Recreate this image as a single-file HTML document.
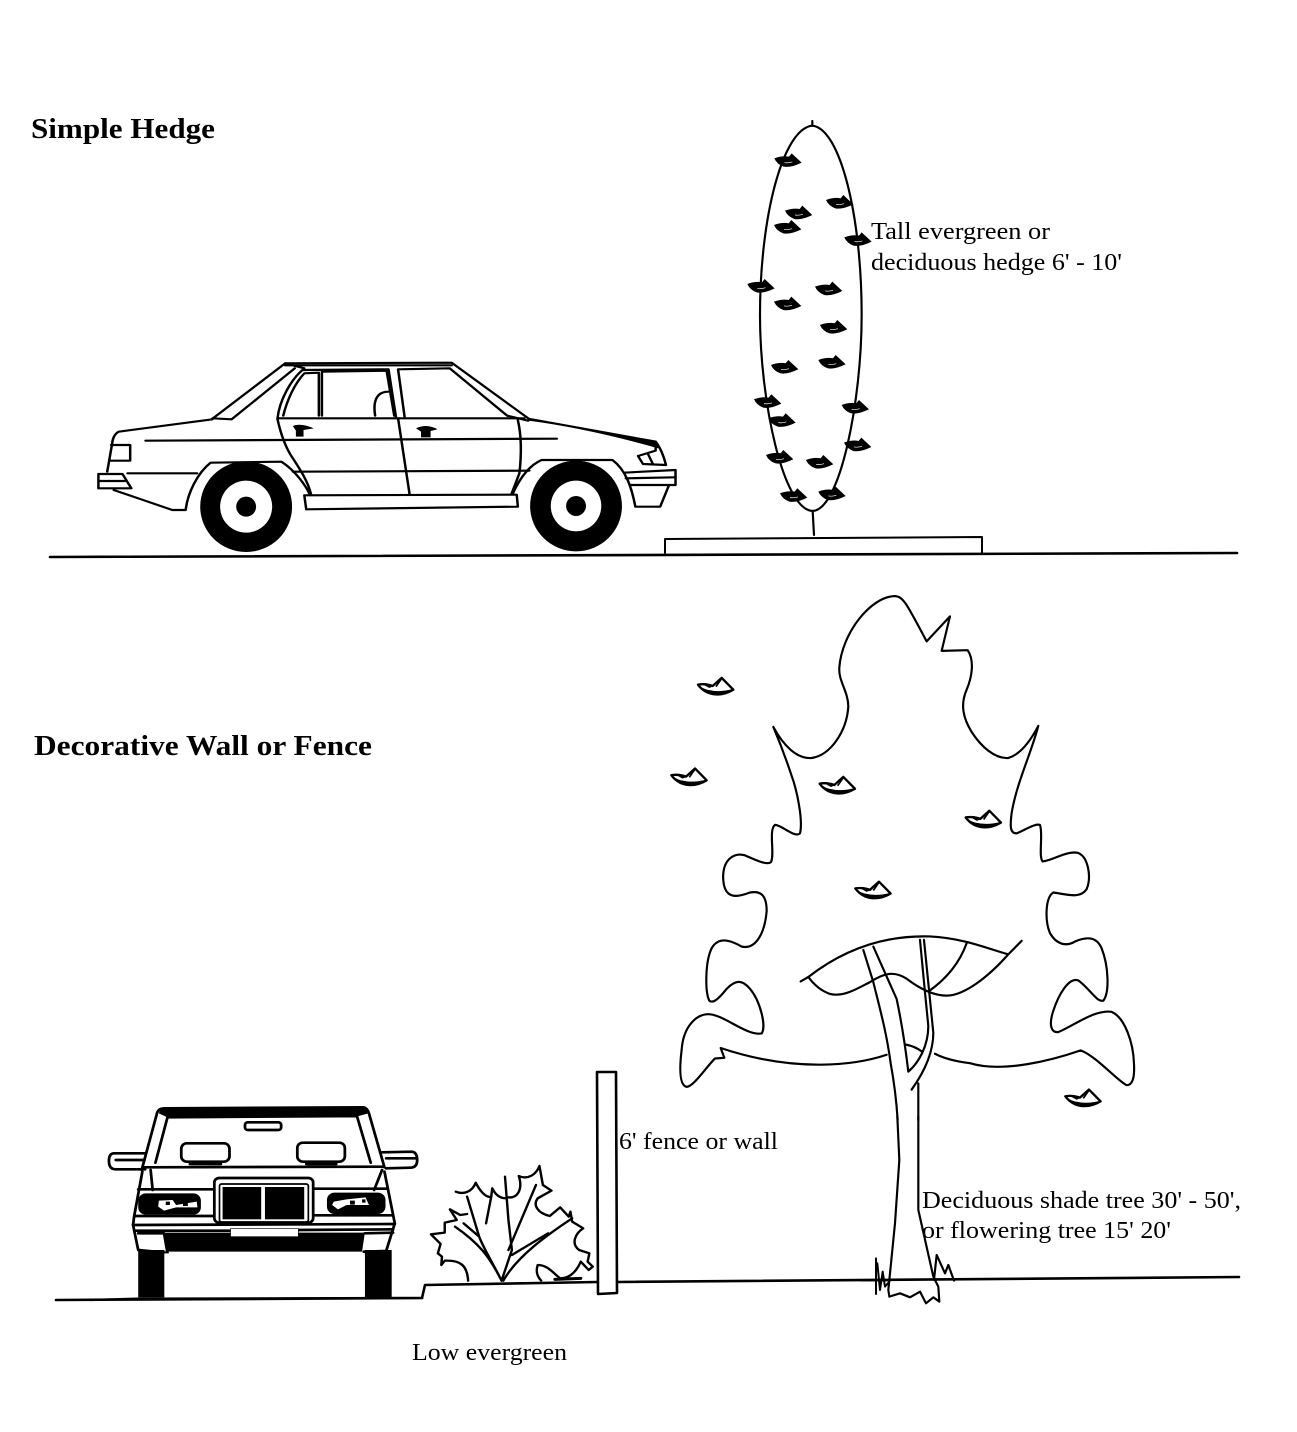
<!DOCTYPE html>
<html><head><meta charset="utf-8"><style>
html,body{margin:0;padding:0;background:#fff;width:1297px;height:1432px;overflow:hidden}
svg{display:block}
text{font-family:"Liberation Serif",serif;fill:#000}
.l{fill:none;stroke:#000;stroke-linejoin:round;stroke-linecap:round}
</style></head><body>
<svg width="1297" height="1432" viewBox="0 0 1297 1432" xmlns="http://www.w3.org/2000/svg">
<defs>
<g id="tl"><path d="M84,280 Q105,276 128,284 L155,260 L190,295 Q150,318 112,303 Q95,295 84,280Z" fill="#fff" stroke="#000" stroke-width="7" stroke-linejoin="round"/><path d="M84,281 Q95,290 112,295 Q150,304 188,293 L190,296 Q150,318 112,304 Q95,296 84,281Z M92,276 Q115,274 132,284 L118,290Z" fill="#000"/><path d="M155,262 L138,286" fill="none" stroke="#000" stroke-width="5"/></g>
<g id="hl"><path d="M0,15 Q25,6 44,10 L52,0 L82,28 Q50,44 28,40 Q8,33 0,15Z" fill="#000"/><path d="M30,28 Q42,30 54,26" fill="none" stroke="#fff" stroke-width="2"/></g>
</defs>

<text x="31" y="138" font-size="29" font-weight="bold" textLength="184" lengthAdjust="spacingAndGlyphs">Simple Hedge</text>
<text x="34" y="755" font-size="29" font-weight="bold" textLength="338" lengthAdjust="spacingAndGlyphs">Decorative Wall or Fence</text>
<text x="871" y="239" font-size="24" textLength="179" lengthAdjust="spacingAndGlyphs">Tall evergreen or</text>
<text x="871" y="270" font-size="24" textLength="251" lengthAdjust="spacingAndGlyphs">deciduous hedge 6' - 10'</text>
<text x="619" y="1149" font-size="24" textLength="159" lengthAdjust="spacingAndGlyphs">6' fence or wall</text>
<text x="922" y="1208" font-size="24" textLength="319" lengthAdjust="spacingAndGlyphs">Deciduous shade tree 30' - 50',</text>
<text x="922" y="1238" font-size="24" textLength="249" lengthAdjust="spacingAndGlyphs">or flowering tree 15' 20'</text>
<text x="412" y="1360" font-size="24" textLength="155" lengthAdjust="spacingAndGlyphs">Low evergreen</text>

<!-- ground lines -->
<path class="l" stroke-width="2.6" d="M50,557 L1237,553"/>
<path class="l" stroke-width="2" d="M665,553 L665,539 L982,537 L982,553"/>
<path class="l" stroke-width="2.6" d="M56,1300 L422,1298 L425,1285 L598,1282 M617,1282 L1239,1277"/>
<path d="M597,1072 L616,1072 L617,1293 L598,1294Z" fill="#fff" stroke="#000" stroke-width="2.6" stroke-linejoin="round"/>

<!-- side car -->
<g transform="translate(90,350) scale(0.3827,0.3333)">
<g class="l" stroke-width="6.5">
<path d="M320,208 L75,245 Q60,255 58,280 L45,365"/>
<path d="M22,372 L85,372 L108,415 L22,415Z" fill="#fff"/>
<path d="M24,393 L95,393"/>
<path d="M55,285 L105,285 L105,332 L52,332"/>
<path d="M62,420 L215,480 L250,480 C255,430 280,370 315,338 L500,335 C540,365 565,410 575,435"/>
<path d="M98,370 L280,370"/>
<path d="M320,206 L510,40 L945,38 L1145,205"/>
<path d="M535,55 L370,208 L320,205" />
<path d="M510,40 L560,55 M510,46 L945,46"/>
<path d="M490,205 C495,150 525,90 555,60 L780,58 L800,205 M1145,212 L1090,197 L940,55 L805,58 L822,200"/>
<path d="M505,197 C515,150 535,100 560,70 L598,68 L598,197 M606,68 L606,197 M606,65 L775,62 L795,197 M745,197 C740,160 745,125 780,125"/>
<path d="M490,205 L1135,205"/>
<path d="M490,208 C500,260 515,300 530,325 C550,360 570,395 578,435"/>
<path d="M805,205 L835,432"/>
<path d="M1118,210 C1130,270 1125,340 1122,370 L1102,430"/>
<path d="M145,272 L1220,266"/>
<path d="M530,365 L1148,362"/>
<path d="M560,436 L1115,434 L1118,470 L565,478 Z" />
<path d="M1105,430 C1125,380 1150,345 1180,330 L1365,330 C1400,360 1415,410 1425,470 L1490,470 L1512,408"/>
<path d="M1395,368 L1530,360 L1530,405 L1410,405"/>
<path d="M1400,385 L1528,382"/>
<path d="M1478,275 Q1495,300 1505,345 L1445,342 L1432,318 L1478,302 Z M1458,312 L1470,340"/>
</g>
<path d="M1145,203 L1480,272 L1485,295 Q1300,235 1145,212Z" fill="#000"/>
<path d="M530,228 Q550,218 585,235 L558,240 L558,260 L538,260 L538,242Z" fill="#000"/>
<path d="M852,235 Q880,220 908,238 L890,243 L890,262 L865,262 L865,245Z" fill="#000"/>
<ellipse cx="408" cy="470" rx="120" ry="136" fill="#000"/><ellipse cx="408" cy="470" rx="68" ry="78" fill="#fff"/><ellipse cx="408" cy="470" rx="26" ry="30" fill="#000"/>
<ellipse cx="1270" cy="468" rx="120" ry="136" fill="#000"/><ellipse cx="1270" cy="468" rx="66" ry="76" fill="#fff"/><ellipse cx="1270" cy="468" rx="26" ry="30" fill="#000"/>
</g>

<!-- hedge -->
<g transform="translate(740,115) scale(0.3333)">
<path class="l" stroke-width="6.5" d="M217,18 L217,32 C130,40 60,300 60,600 C60,860 130,1185 218,1188 C300,1185 365,860 365,600 C365,300 300,40 217,32 M218,1188 L222,1260"/>
<use href="#hl" x="103" y="115"/><use href="#hl" x="258" y="240"/><use href="#hl" x="135" y="272"/><use href="#hl" x="102" y="315"/><use href="#hl" x="313" y="352"/>
<use href="#hl" x="22" y="492"/><use href="#hl" x="225" y="500"/><use href="#hl" x="102" y="545"/><use href="#hl" x="240" y="615"/><use href="#hl" x="93" y="735"/><use href="#hl" x="235" y="720"/>
<use href="#hl" x="42" y="838"/><use href="#hl" x="305" y="855"/><use href="#hl" x="85" y="895"/><use href="#hl" x="312" y="968"/><use href="#hl" x="78" y="1005"/><use href="#hl" x="198" y="1020"/><use href="#hl" x="120" y="1120"/><use href="#hl" x="235" y="1115"/>
</g>

<!-- tree -->
<g transform="translate(670,590) scale(0.3333,0.338)">
<g class="l" stroke-width="6.5">
<path d="M650,1375 C560,1405 380,1430 152,1355 L163,1384 L135,1386 C110,1410 70,1470 50,1470 C25,1465 30,1400 35,1360 C40,1290 80,1255 115,1255 C160,1255 230,1320 275,1312 C290,1290 270,1215 240,1180 C215,1150 195,1155 170,1180 C150,1205 130,1225 118,1215 C105,1190 105,1100 125,1060 C145,1025 180,1035 215,1055 C260,1065 285,1010 290,950 C290,900 270,890 240,895 C200,910 165,915 160,860 C155,800 190,775 225,785 C260,800 290,815 303,805 C315,780 295,710 315,695 C335,695 375,735 390,720 C400,680 380,590 365,550 C345,490 325,440 310,405 C340,460 380,500 425,497 C480,490 530,420 535,345 C535,300 505,270 508,230 C515,130 600,20 675,18 C700,20 710,40 770,152 L840,78 L815,180 L893,178 C915,210 905,260 890,295 C870,340 880,380 905,420 C935,465 975,500 1015,497 C1055,485 1085,440 1105,402 C1085,480 1040,570 1025,660 C1020,700 1020,720 1040,720 C1065,710 1095,690 1110,695 C1120,720 1105,790 1118,803 C1150,800 1190,770 1225,778 C1255,790 1265,850 1250,885 C1230,915 1190,900 1150,895 C1125,910 1125,980 1140,1015 C1160,1050 1190,1055 1215,1040 C1250,1025 1280,1025 1295,1060 C1315,1110 1320,1190 1300,1215 C1280,1220 1260,1180 1225,1155 C1195,1145 1165,1200 1150,1245 C1135,1290 1145,1310 1165,1308 C1210,1290 1275,1240 1325,1248 C1365,1265 1390,1340 1392,1400 C1395,1450 1385,1465 1370,1465 C1340,1450 1280,1380 1232,1362 C1150,1390 1000,1430 900,1400 C860,1395 820,1385 795,1372"/>
<path d="M392,1158 L415,1145 C500,1080 620,1020 780,1025 C880,1030 950,1060 1015,1078 L1055,1038 M1015,1078 C950,1150 880,1200 830,1200 C790,1200 750,1180 710,1150 C670,1125 640,1135 600,1160 C560,1180 520,1205 480,1195 C450,1185 430,1165 415,1145"/>
<path d="M775,1188 C830,1150 870,1100 890,1045"/>
<path d="M580,1065 L610,1160 C630,1240 650,1310 662,1400 C675,1470 680,1520 683,1568"/>
<path d="M610,1055 L680,1210 C695,1280 705,1340 715,1425 C745,1400 775,1350 775,1290 L765,1190 L750,1035"/>
<path d="M762,1035 L790,1310 C790,1370 760,1430 725,1478 M745,1460 L745,1568"/>
<path d="M708,1345 Q735,1350 755,1365"/>
</g>
<use href="#tl"/><use href="#tl" x="-80" y="268"/><use href="#tl" x="365" y="293"/><use href="#tl" x="803" y="393"/><use href="#tl" x="472" y="603"/><use href="#tl" x="1102" y="1218"/>
</g>

<!-- trunk bottom -->
<g transform="translate(860,1090) scale(0.3333)">
<g class="l" stroke-width="6.5">
<path d="M112,80 L118,210 L105,400 L88,570 L85,600 L88,620 L120,610 L150,622 L180,605 L198,640 L220,622 L238,635 L235,590 L220,560 L175,360 L175,80"/>
<path d="M48,505 L48,612 M52,520 L60,600 L68,545 L75,590 L88,575 M0,571 L85,571" stroke-width="6"/>
<path d="M222,570 L230,495 L255,550 L265,525 L282,572" stroke-width="6.5"/>
</g>
</g>

<!-- front car -->
<g transform="translate(90,1090) scale(0.3444,0.3333)">
<path d="M140,480 L216,480 L216,622 L140,622Z M798,480 L876,480 L876,622 L798,622Z" fill="#000"/>
<path d="M215,428 L798,428 L790,485 L225,485Z" fill="#000"/>
<path d="M205,55 L800,52 L808,70 L780,78 L225,82 L200,70Z" fill="#000"/>
<g class="l" stroke-width="8">
<path d="M150,240 L195,68 Q200,55 215,55 L795,52 Q805,55 810,70 L855,232"/>
<path d="M190,218 L225,82 L775,78 L815,218"/>
<path d="M158,232 L850,230"/>
<rect x="450" y="97" width="105" height="23" rx="8" fill="#fff"/>
<rect x="265" y="160" width="140" height="55" rx="16" fill="#fff"/>
<rect x="602" y="158" width="138" height="57" rx="16" fill="#fff"/>
<path d="M290,222 L380,222 M628,222 L715,222"/>
<path d="M160,190 L70,190 Q55,190 55,213 Q55,238 75,238 L160,238 M75,210 L158,210"/>
<path d="M848,187 L935,185 Q950,187 950,210 Q950,233 930,233 L860,235 M860,205 L945,205"/>
<path d="M152,245 L128,380 L125,405 L140,480 L220,488 M176,240 L182,300 M848,240 L825,300 M855,245 L885,400 L860,483 L795,485"/>
<path d="M125,405 L885,402 M130,422 L405,422 M605,420 L880,418 M140,298 L360,298 M650,296 L860,296 M130,378 L370,378 M650,376 L880,376"/>
<path d="M140,430 L215,430 L225,488 M880,428 L798,430"/>
<rect x="361" y="264" width="287" height="134" rx="14" fill="#fff"/>
<rect x="376" y="282" width="258" height="114" rx="6" fill="#fff" stroke-width="5"/>
<rect x="408" y="416" width="197" height="24" fill="#fff" stroke-width="2"/>
</g>
<rect x="385" y="291" width="112" height="97" fill="#000"/>
<rect x="508" y="291" width="114" height="97" fill="#000"/>
<rect x="140" y="310" width="182" height="64" rx="22" fill="#000"/>
<rect x="688" y="308" width="170" height="64" rx="22" fill="#000"/>
<path d="M200,332 L240,330 L250,345 L310,335 L312,352 L250,352 L215,362 L198,350Z M708,335 L745,328 L800,322 L810,345 L745,345 L720,358 L703,345Z" fill="#fff"/>
<path d="M220,335 h12 v10 h-12Z M270,338 h14 v10 h-14Z M755,332 h14 v12 h-14Z M790,328 h10 v10 h-10Z" fill="#000"/>
<path d="M216,490 L798,494 L798,620 L216,620Z" fill="#fff"/>
<path class="l" stroke-width="7" d="M0,630 L140,626 L965,624"/>

<!-- shrub -->
<g class="l" stroke-width="7">
<path d="M1098,572 C1095,530 1080,510 1030,512 L1020,525 L1022,500 L1010,490 L1018,462 L990,433 L1030,428 L1030,398 L1065,390 L1045,358 L1075,375 L1095,372 M1062,305 C1085,315 1110,305 1120,278 C1130,300 1150,325 1165,320 L1168,295 C1180,320 1200,330 1215,322 C1240,325 1258,300 1245,258 C1270,270 1295,255 1305,228 L1315,285 L1340,302 L1300,325 C1285,345 1300,370 1335,378 L1365,352 L1390,380 L1395,365 L1400,395 L1432,415 C1410,430 1395,460 1420,480 L1450,490 L1445,515 L1460,530 L1448,540 L1425,515 C1410,550 1390,565 1365,565 C1345,550 1330,525 1300,525 C1295,540 1295,555 1310,572"/>
<path d="M1195,572 C1170,520 1140,470 1130,440 L1095,320 M1130,440 L1085,400 M1165,320 L1150,400 M1195,572 C1160,500 1130,460 1060,410" />
<path d="M1195,572 L1225,480 L1215,390 L1205,260 M1215,480 L1295,285 M1200,572 C1240,500 1320,440 1400,385 M1225,495 L1330,430"/>
<path d="M1350,568 L1425,565" stroke-width="9"/>
</g>
</g>
</svg>
</body></html>
